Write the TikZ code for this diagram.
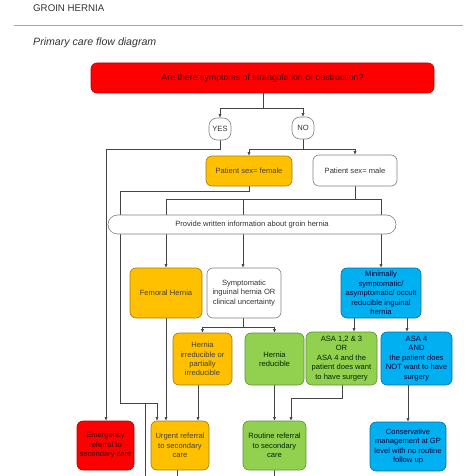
\documentclass[tikz,border=0pt]{standalone}
\usepackage{fontspec}
\setmainfont{Liberation Sans}
\usetikzlibrary{arrows.meta}
\pgfdeclarelayer{background}
\pgfsetlayers{background,main}
\definecolor{cred}{HTML}{FF0000}
\definecolor{cora}{HTML}{FFC000}
\definecolor{cgrn}{HTML}{92D050}
\definecolor{cblu}{HTML}{00B0F0}
\definecolor{bred}{HTML}{B00000}
\definecolor{bora}{HTML}{A07A10}
\definecolor{bgrn}{HTML}{5E8F34}
\definecolor{bblu}{HTML}{0A6EA0}
\definecolor{bwht}{HTML}{808080}
\definecolor{lnc}{HTML}{444444}
\definecolor{txt}{HTML}{333333}
\begin{document}
\begin{tikzpicture}[x=1pt,y=-1pt,
  box/.style={draw,rounded corners=6pt,align=center,inner sep=1pt,line width=0.6pt,
    font=\fontsize{7.6}{9.4}\selectfont},
  redbox/.style={box,fill=cred,draw=bred,text=black!75!red},
  orabox/.style={box,fill=cora,draw=bora,text=black!85!yellow},
  grnbox/.style={box,fill=cgrn,draw=bgrn,text=black!85!green},
  blubox/.style={box,fill=cblu,draw=bblu,text=black!80!blue},
  whtbox/.style={box,fill=white,draw=bwht,text=txt},
  sz/.style 2 args={minimum width=#1pt,minimum height=#2pt},
  ln/.style={draw=lnc,line width=0.6pt},
  arr/.style={ln,-{Latex[length=3.6pt,width=3.2pt]}}]
\useasboundingbox (0,0) rectangle (474,476);
% header
\node[anchor=west,text=txt,font=\fontsize{9.7}{11}\selectfont,inner sep=0pt] (title) at (33,8) {GROIN HERNIA};
\coordinate (r1) at (14,25);
\coordinate (r2) at (463,25);
\draw[draw=black!35,line width=0.8pt] (r1) -- (r2);
\node[anchor=west,text=txt,font=\fontsize{10.6}{12}\selectfont\itshape,inner sep=0pt] (sub) at (33,43) {Primary care flow diagram};
% nodes
\node[redbox,sz={343}{30},font=\fontsize{8.8}{10}\selectfont] (q) at (262.5,78) {Are there symptoms of strangulation or obstruction?};
\node[whtbox,rounded corners=8pt,sz={22}{22}] (yes) at (220,129) {YES};
\node[whtbox,rounded corners=8pt,sz={22}{22}] (no) at (303,128) {NO};
\node[orabox,sz={86}{30}] (female) at (249,171) {Patient sex= female};
\node[whtbox,sz={84}{31}] (male) at (355,170.5) {Patient sex= male};
\node[whtbox,rounded corners=9.5pt,sz={288}{19}] (info) at (252,224.5) {Provide written information about groin hernia};
\node[orabox,sz={72}{50}] (femoral) at (166,293) {Femoral Hernia};
\node[whtbox,sz={74}{50}] (sympt) at (244,293) {Symptomatic\\inguinal hernia OR\\clinical uncertainty};
\node[blubox,sz={80}{50}] (minimal) at (381,293) {Minimally\\symptomatic/\\asymptomatic/ occult\\reducible inguinal\\hernia};
\node[orabox,sz={59}{52}] (irr) at (202.5,359) {Hernia\\irreducible or\\partially\\irreducible};
\node[grnbox,sz={59}{52}] (redu) at (274.5,359) {Hernia\\reducible};
\node[grnbox,sz={71}{53}] (asa1) at (341.5,358.5) {ASA 1,2 \& 3\\OR\\ASA 4 and the\\patient does want\\to have surgery};
\node[blubox,sz={71}{53}] (asa4) at (416.5,358.5) {ASA 4\\AND\\the patient does\\NOT want to have\\surgery};
\node[redbox,sz={57}{49}] (emerg) at (105.5,445.5) {Emergency\\referral to\\secondary care};
\node[orabox,sz={58}{49}] (urgent) at (180,445.5) {Urgent referral\\to secondary\\care};
\node[grnbox,sz={63}{49}] (routine) at (274.5,445.5) {Routine referral\\to secondary\\care};
\node[blubox,sz={76}{49}] (cons) at (408,446.5) {Conservative\\management at GP\\level with no routine\\follow up};
% coordinates
\coordinate (j1) at (263,108);
\coordinate (c1) at (106,149);
\coordinate (j2) at (303,149);
\coordinate (c2) at (120,191);
\coordinate (c3) at (120,403);
\coordinate (c4) at (157,403);
\coordinate (c5) at (145,403);
\coordinate (c6) at (145,476);
\coordinate (j3) at (355,199);
\coordinate (c7) at (166,199);
\coordinate (c7b) at (243,199);
\coordinate (c8) at (381,199);
\coordinate (j4) at (243,327);
\coordinate (x1) at (354,0);
\coordinate (x2) at (407,0);
\coordinate (x3) at (198,0);
\coordinate (d1) at (342,398);
\coordinate (d2) at (291,398);
\coordinate (e1) at (177,476);
\coordinate (e2) at (274,476);
\begin{pgfonlayer}{background}
\draw[ln] (q.south -| j1) -- (j1);
\draw[arr] (j1) -| (yes);
\draw[arr] (j1) -| (no);
\draw[arr] (yes) |- (c1) -- (c1 |- emerg.north);
\draw[ln] (no) -- (j2);
\draw[arr] (j2) -| (female);
\draw[arr] (j2) -| (male);
\draw[arr] (female.south) |- (c2) -- (c3) -- (c4) -- (c4 |- urgent.north);
\draw[ln] (c5) -- (c6);
\draw[ln] (male) -- (j3);
\draw[ln] (c7) -- (c8);
\draw[arr] (c7) -- (femoral);
\draw[arr] (c7b) -- (c7b |- sympt.north);
\draw[arr] (c8) -- (minimal);
\draw[ln] (sympt.south -| j4) -- (j4);
\draw[arr] (j4) -| (irr);
\draw[arr] (j4) -| (redu);
\draw[arr] (minimal.south -| x1) -- (x1 |- asa1.north);
\draw[arr] (minimal.south -| x2) -- (x2 |- asa4.north);
\draw[arr] (femoral) -- (femoral |- urgent.north);
\draw[arr] (irr.south -| x3) -- (x3 |- urgent.north);
\draw[arr] (redu.south -| routine) -- (routine);
\draw[arr] (asa1.south -| d1) -- (d1) -- (d2) -- (d2 |- routine.north);
\draw[arr] (asa4.south -| cons) -- (cons);
\draw[ln] (urgent.south -| e1) -- (e1);
\draw[ln] (routine.south -| e2) -- (e2);
\end{pgfonlayer}
\end{tikzpicture}
\end{document}
